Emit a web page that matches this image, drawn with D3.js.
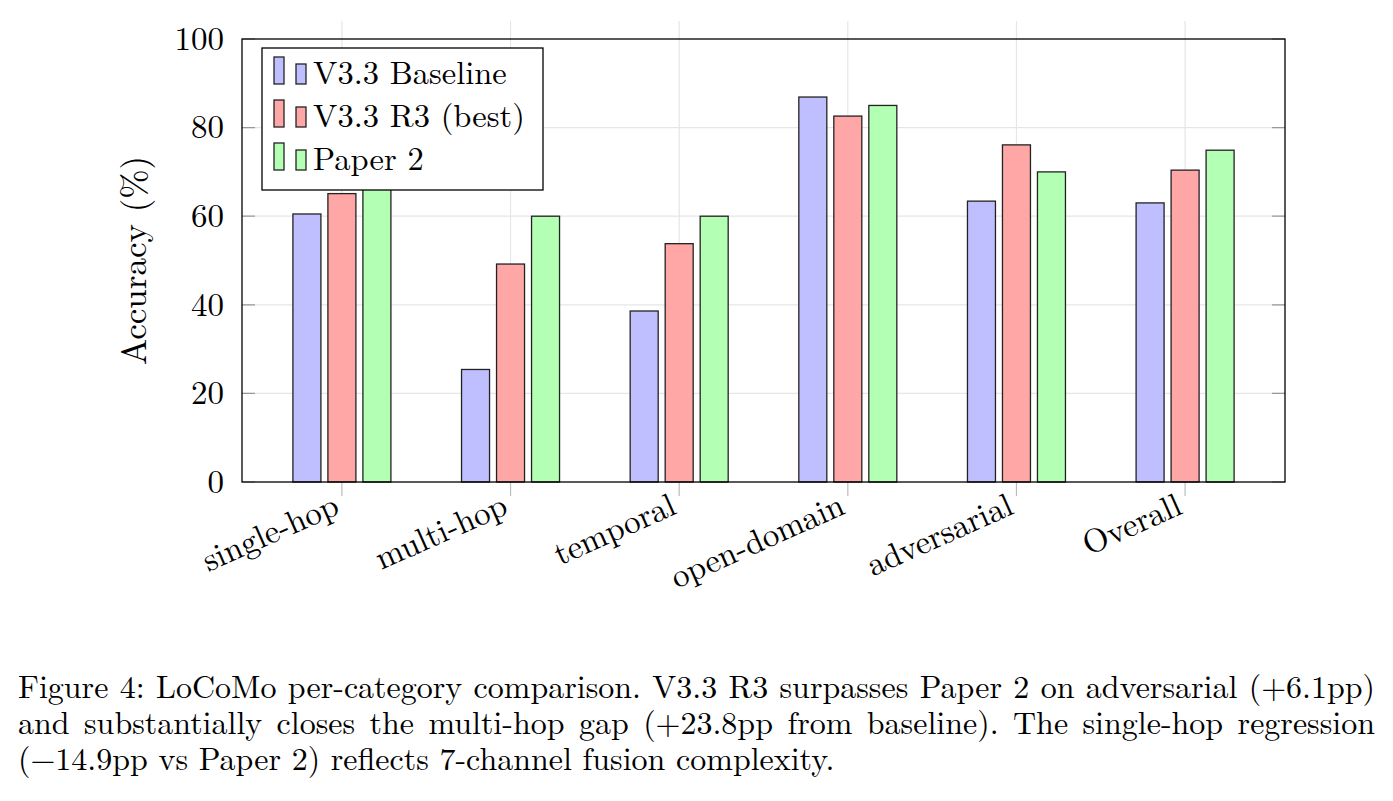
<!DOCTYPE html>
<html>
<head>
<meta charset="utf-8">
<script src="https://cdn.jsdelivr.net/npm/d3@7"></script>
<style>
  body { margin: 0; background: #fff; }
</style>
</head>
<body>
<div id="chart"></div>
<script>
const categories = ['single-hop', 'multi-hop', 'temporal', 'open-domain', 'adversarial', 'Overall'];
const seriesNames = ['V3.3 Baseline', 'V3.3 R3 (best)', 'Paper 2'];
const baselineValues = [60.5, 25.4, 38.6, 86.9, 63.4, 63.0];
const r3Values = [65.1, 49.2, 53.8, 82.6, 76.1, 70.4];
const paper2Values = [80.0, 60.0, 60.0, 85.0, 70.0, 74.9];
const yTicks = [0, 20, 40, 60, 80, 100];
const captionLines = [
    'Figure 4: LoCoMo per-category comparison. V3.3 R3 surpasses Paper 2 on adversarial (+6.1pp)',
    'and substantially closes the multi-hop gap (+23.8pp from baseline). The single-hop regression',
    '(\u221214.9pp vs Paper 2) reflects 7-channel fusion complexity.'
];

const seriesValues = [baselineValues, r3Values, paper2Values];
const fills = ['#bfbfff', '#ffa6a6', '#b3ffb3'];

const width = 1393;
const height = 801;
const plot = { left: 242, right: 1285, top: 39, bottom: 482 };

const svg = d3.select('#chart')
    .append('svg')
    .attr('width', width)
    .attr('height', height)
    .attr('font-family', '"Latin Modern Roman", "Liberation Serif", serif');

const x = d3.scaleLinear()
    .domain([-0.5924, categories.length - 1 + 0.5924])
    .range([plot.left, plot.right]);

const y = d3.scaleLinear()
    .domain([0, 100])
    .range([plot.bottom, plot.top]);

const offset = d3.scalePoint()
    .domain(seriesNames)
    .range([-35, 35]);
const barWidth = 28;

// grid
svg.append('g')
    .selectAll('line')
    .data(yTicks.slice(1, -1))
    .enter()
    .append('line')
    .attr('x1', plot.left).attr('x2', plot.right)
    .attr('y1', d => y(d)).attr('y2', d => y(d))
    .style('stroke', '#e6e6e6')
    .style('stroke-width', 1.2);

svg.append('g')
    .selectAll('line')
    .data(categories)
    .enter()
    .append('line')
    .attr('x1', (d, i) => x(i)).attr('x2', (d, i) => x(i))
    .attr('y1', plot.top - 18).attr('y2', plot.bottom)
    .style('stroke', '#e6e6e6')
    .style('stroke-width', 1.2);

// small ticks: y inside both sides, x outside at the bottom
svg.append('g')
    .selectAll('path')
    .data(yTicks)
    .enter()
    .append('path')
    .attr('d', d => `M${plot.left},${y(d)}h13M${plot.right},${y(d)}h-13`)
    .style('stroke', '#999')
    .style('stroke-width', 1.2);

svg.append('g')
    .selectAll('path')
    .data(categories)
    .enter()
    .append('path')
    .attr('d', (d, i) => `M${x(i)},${plot.bottom}v14`)
    .style('stroke', '#bbb')
    .style('stroke-width', 1.2);

// bars
seriesNames.forEach((name, s) => {
    svg.append('g')
        .selectAll('rect')
        .data(seriesValues[s])
        .enter()
        .append('rect')
        .attr('x', (d, i) => x(i) + offset(name) - barWidth / 2)
        .attr('y', d => y(d))
        .attr('width', barWidth)
        .attr('height', d => y(0) - y(d))
        .attr('fill', fills[s])
        .attr('stroke', '#222')
        .style('stroke-width', 1.3);
});

// frame
svg.append('rect')
    .attr('x', plot.left).attr('y', plot.top)
    .attr('width', plot.right - plot.left)
    .attr('height', plot.bottom - plot.top)
    .attr('fill', 'none')
    .attr('stroke', '#000')
    .style('stroke-width', 1.3);

// y tick labels
svg.append('g')
    .selectAll('text')
    .data(yTicks)
    .enter()
    .append('text')
    .attr('x', plot.left - 18)
    .attr('y', d => y(d))
    .attr('dy', '0.33em')
    .attr('text-anchor', 'end')
    .style('font-size', '33px')
    .text(d => d);

// x tick labels
svg.append('g')
    .selectAll('text')
    .data(categories)
    .enter()
    .append('text')
    .attr('transform', (d, i) => `translate(${x(i) - 1}, ${plot.bottom + 31}) rotate(-24)`)
    .attr('text-anchor', 'end')
    .style('font-size', '33px')
    .text(d => d);

// y axis label
svg.append('text')
    .attr('transform', `translate(146, ${(plot.top + plot.bottom) / 2}) rotate(-90)`)
    .attr('text-anchor', 'middle')
    .style('font-size', '35px')
    .text('Accuracy (%)');

// legend
const legend = svg.append('g');
legend.append('rect')
    .attr('x', 262).attr('y', 48)
    .attr('width', 281).attr('height', 142)
    .attr('fill', '#fff')
    .attr('stroke', '#000')
    .style('stroke-width', 1.3);

seriesNames.forEach((name, s) => {
    const row = legend.append('g').attr('transform', `translate(0, ${s * 43})`);
    row.append('rect')
        .attr('x', 274).attr('y', 57).attr('width', 10).attr('height', 27)
        .attr('fill', fills[s]).attr('stroke', '#222').style('stroke-width', 1.3);
    row.append('rect')
        .attr('x', 296).attr('y', 64).attr('width', 10).attr('height', 20)
        .attr('fill', fills[s]).attr('stroke', '#222').style('stroke-width', 1.3);
    row.append('text')
        .attr('x', 313).attr('y', 84)
        .style('font-size', '32.5px')
        .text(name);
});

// caption, first two lines justified through word spacing
const caption = svg.append('g')
    .selectAll('text')
    .data(captionLines)
    .enter()
    .append('text')
    .attr('x', 18)
    .attr('y', (d, i) => 698 + i * 36)
    .style('font-size', '32px')
    .text(d => d);

caption.each(function(d, i) {
    if (i > 1) return;
    const natural = this.getComputedTextLength();
    const spaces = d.split(' ').length - 1;
    d3.select(this).style('word-spacing', `${(1357 - natural) / spaces}px`);
});
</script>
</body>
</html>
